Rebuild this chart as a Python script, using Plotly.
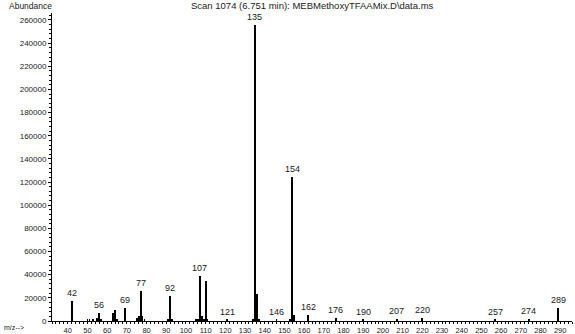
import plotly.graph_objects as go

# espectro de massas
mz = [42, 50, 51, 53, 55, 56, 57, 63, 64, 65, 69, 75, 76, 77, 78, 79,
      91, 92, 93, 105, 106, 107, 108, 109, 110, 111, 121, 134, 135, 136,
      137, 146, 153, 154, 155, 162, 176, 190, 207, 220, 257, 274, 289]
abundance = [17000, 1500, 1000, 1200, 3000, 7000, 2000, 7000, 9500, 1500, 11000, 2500, 4000, 26000, 4000, 2000,
             2000, 22000, 1500, 1500, 1500, 39000, 4000, 1500, 34500, 1500, 1000, 1500, 256000, 23000,
             2000, 1000, 1000, 124000, 5000, 5000, 2500, 1000, 1500, 2500, 1000, 1500, 11000]
labelled = [42, 56, 69, 77, 92, 107, 121, 135, 146, 154, 162, 176, 190, 207, 220, 257, 274, 289]

x_ticks = list(range(40, 300, 10))
y_ticks = list(range(0, 280000, 20000))

FONT = "Liberation Sans"
INK = "#222"

fig = go.Figure(
    go.Bar(
        x=mz,
        y=abundance,
        width=0.4,
        marker=dict(color="black", line=dict(width=0)),
        showlegend=False,
    )
)

heights = dict(zip(mz, abundance))
for m in labelled:
    fig.add_annotation(
        x=m, y=heights[m], text=str(m), showarrow=False,
        yanchor="bottom", yshift=1,
        font=dict(family=FONT, size=9, color=INK),
    )

fig.add_annotation(
    xref="paper", yref="paper", x=0.5, y=1.0, yanchor="bottom", yshift=0,
    text="Scan 1074 (6.751 min): MEBMethoxyTFAAMix.D\\data.ms",
    showarrow=False, font=dict(family=FONT, size=9.5, color=INK),
)
fig.add_annotation(
    xref="paper", yref="paper", x=0.0, y=1.0, xanchor="right", yanchor="bottom", xshift=2, yshift=0,
    text="Abundance", showarrow=False, font=dict(family=FONT, size=8.5, color=INK),
)
fig.add_annotation(
    xref="paper", yref="paper", x=0.0, y=0.0, xanchor="right", yanchor="top", xshift=-26, yshift=-1,
    text="m/z-->", showarrow=False, font=dict(family=FONT, size=7, color=INK),
)

fig.update_xaxes(
    range=[32, 296],
    tickvals=x_ticks,
    ticks="outside", ticklen=2, tickcolor="black",
    minor=dict(dtick=2, ticks="outside", ticklen=2, tickcolor="black"),
    showline=True, linecolor="black", linewidth=1,
    showgrid=False, zeroline=False,
    tickfont=dict(family=FONT, size=7.5, color=INK),
)
fig.update_yaxes(
    range=[0, 266000],
    tickvals=y_ticks, tickformat="d",
    ticks="outside", ticklen=3, tickcolor="black",
    minor=dict(dtick=4000, ticks="outside", ticklen=2, tickcolor="black"),
    showline=True, linecolor="black", linewidth=1,
    showgrid=False, zeroline=False,
    tickfont=dict(family=FONT, size=8, color=INK),
)

fig.update_layout(
    width=575,
    height=334,
    margin=dict(l=52, r=3, t=13, b=13, autoexpand=False),
    plot_bgcolor="white",
    paper_bgcolor="white",
    bargap=0,
)

# tira a margem padrão do <body> para a figura ocupar a janela inteira
fig.write_html(
    "out.html",
    config={"displayModeBar": False},
    post_script="document.body.style.margin='0';",
)
